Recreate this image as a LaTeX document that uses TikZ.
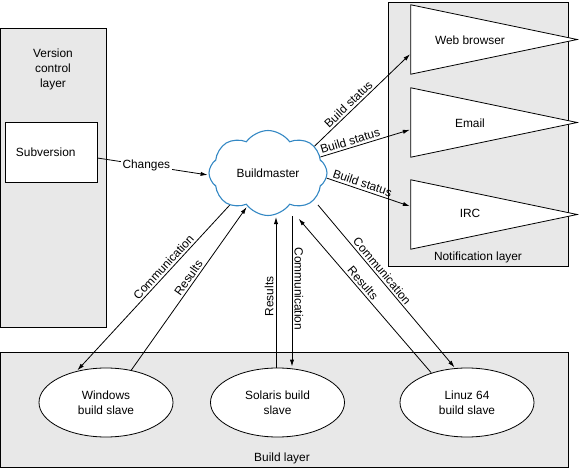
\documentclass[tikz,border=0pt]{standalone}
\usepackage{fontspec}
\setmainfont{Liberation Sans}
\usetikzlibrary{shapes,arrows.meta}

\definecolor{layergray}{RGB}{232,232,232}
\definecolor{cloudblue}{RGB}{52,136,196}

\begin{document}
\begin{tikzpicture}[x=1pt, y=-1pt,
    font=\fontsize{11.9}{15}\selectfont,
    layer/.style ={draw=black, fill=layergray, line width=0.8pt},
    block_left/.style ={rectangle, draw=black, fill=white, line width=0.8pt,
      text width=70pt, align=left, inner xsep=11pt, minimum height=60pt},
    block_cloud/.style ={cloud, cloud puffs=8, cloud puff arc=110, aspect=1.4,
      draw=cloudblue, line width=1.1pt, fill=white,
      minimum width=118pt, minimum height=85pt},
    block_slave/.style ={ellipse, draw=black, fill=white, line width=0.8pt,
      minimum width=134pt, minimum height=69pt, align=center, inner sep=0pt},
    block_notify/.style ={rectangle, draw=none, minimum width=166pt,
      minimum height=69pt, inner sep=0pt},
    tri_line/.style ={draw=black, fill=white, line width=0.8pt},
    block_noborder/.style ={rectangle, draw=none, fill=none, align=center, inner sep=1pt},
    lbl/.style ={sloped, above, inner sep=2pt},
    line/.style ={draw, line width=0.8pt, -{Latex[length=7pt,width=4.2pt]}, shorten >=1pt}]
    \useasboundingbox (0,0) rectangle (579,468);
    % the three layers
    \path[layer] (0.5,28) rectangle (106,327);
    \path[layer] (388,2) rectangle (568,266);
    \path[layer] (0.5,352) rectangle (568,467);
    \node [block_noborder] (vc_label) at (53,69) {Version\\control\\layer};
    \node [block_noborder] (notify_label) at (478,257) {Notification layer};
    \node [block_noborder] (build_label) at (282,458) {Build layer};
    % version control and buildmaster
    \node [block_left] (subversion) at (51,152) {Subversion};
    \node [block_cloud] (buildmaster) at (268,173) {Buildmaster};
    % notification targets
    \node [block_notify] (web) at (494,39.5) {};
    \node [block_notify] (email) at (494,122.5) {};
    \node [block_notify] (irc) at (494,214.5) {};
    \foreach \t in {web,email,irc}
      \path[tri_line] (\t.north west) -- (\t.east) -- (\t.south west) -- cycle;
    \node [block_noborder] (web_text) at (470,40) {Web browser};
    \node [block_noborder] (email_text) at (470,123) {Email};
    \node [block_noborder] (irc_text) at (470,213) {IRC};
    % build slaves
    \node [block_slave] (windows) at (106,402.5) {Windows\\build slave};
    \node [block_slave] (solaris) at (277.5,402.5) {Solaris build\\slave};
    \node [block_slave] (linuz) at (467,402.5) {Linuz 64\\build slave};
    % connecting nodes with paths
    \begin{scope}[every path/.style=line]
      \path ([yshift=-6pt]subversion.east) -- node[pos=0.44, fill=white, inner sep=1.5pt] {Changes} (buildmaster.182);
      \path (buildmaster.30) -- node[lbl, pos=0.4] {Build status} ([yshift=-14pt]web.west);
      \path (buildmaster.17) -- node[lbl, pos=0.35] {Build status} ([yshift=-7pt]email.west);
      \path (buildmaster.-5) -- node[lbl, pos=0.4] {Build status} ([yshift=8pt]irc.west);
      \path (buildmaster.220) -- node[lbl, pos=0.4] {Communication} (windows.133);
      \path (windows.52) -- node[lbl, pos=0.54] {Results} (buildmaster.238);
      \path ([xshift=-1.5pt]solaris.north) -- node[rotate=90, anchor=south, inner sep=2pt, pos=0.47] {Results} ([xshift=-1.5pt]solaris.north |- buildmaster.south);
      \path ([xshift=14.5pt]solaris.north |- buildmaster.south) -- node[rotate=-90, anchor=south, inner sep=2pt, pos=0.48] {Communication} ([xshift=14.5pt]solaris.north);
      \path ([shift={(-36pt,30pt)}]linuz.center) -- node[lbl, pos=0.55] {Results} ([shift={(30pt,-45pt)}]buildmaster.center);
      \path ([shift={(50pt,-32pt)}]buildmaster.center) -- node[lbl, pos=0.43] {Communication} (linuz.109);
    \end{scope}
\end{tikzpicture}
\end{document}
